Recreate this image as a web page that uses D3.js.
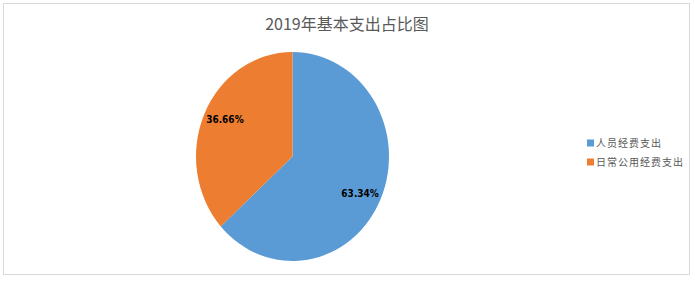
<html>
<head>
<meta charset="utf-8">
<style>
  body { margin: 0; background: #fff; }
  text { font-family: "Noto Sans CJK SC", "DejaVu Sans", sans-serif; }
</style>
</head>
<body>
<script src="https://cdn.jsdelivr.net/npm/d3@7/dist/d3.min.js"></script>
<script>
// chart data
var categories = ["人员经费支出", "日常公用经费支出"];
var shares = [63.34, 36.66];
var colors = ["#5B9BD5", "#ED7D31"];
var title = "2019年基本支出占比图";

var W = 695, H = 281;
var svg = d3.select("body").append("svg")
    .attr("width", W)
    .attr("height", H);

// outer frame
svg.append("rect")
    .attr("x", 3.5).attr("y", 3.5)
    .attr("width", 686).attr("height", 271)
    .attr("fill", "#fff")
    .attr("stroke", "#d9d9d9")
    .attr("stroke-width", 1);

svg.append("text")
    .attr("x", 347).attr("y", 30)
    .attr("text-anchor", "middle")
    .attr("fill", "#595959")
    .style("font-size", "16px")
    .text(title);

// the pie in the picture is slightly squeezed horizontally
var cx = 292.5, cy = 156.5, r = 104.5, sx = 96.5 / 104.5;
var data = categories.map(function(c, i) { return {name: c, value: shares[i], color: colors[i]}; });

var pie = d3.pie().sort(null).value(function(d) { return d.value; });
var arc = d3.arc().innerRadius(0).outerRadius(r);

var g = svg.append("g").attr("transform", "translate(" + cx + "," + cy + ")");
var arcs = pie(data);

g.append("g")
    .attr("transform", "scale(" + sx + ",1)")
  .selectAll("path")
  .data(arcs)
  .enter().append("path")
    .attr("d", arc)
    .attr("fill", function(d) { return d.data.color; });

// labels placed inside the slices
g.selectAll("text.lbl")
  .data(arcs)
  .enter().append("text")
    .attr("class", "lbl")
    .attr("transform", function(d) {
      var a = (d.startAngle + d.endAngle) / 2;
      return "translate(" + (Math.sin(a) * 74) + "," + (-Math.cos(a) * 90) + ")";
    })
    .attr("text-anchor", "middle")
    .attr("dy", "0.35em")
    .style("font-family", "'Liberation Sans Narrow', 'DejaVu Sans Condensed', sans-serif")
    .style("font-size", "10px")
    .style("font-weight", "bold")
    .attr("fill", "#000")
    .text(function(d) { return d.data.value.toFixed(2) + "%"; });

// legend
var legend = svg.append("g").attr("transform", "translate(587,143)");
var items = legend.selectAll("g")
  .data(data)
  .enter().append("g")
    .attr("transform", function(d, i) { return "translate(0," + (i * 19) + ")"; });
items.append("rect")
    .attr("x", 0).attr("y", -3.5)
    .attr("width", 7).attr("height", 7)
    .attr("fill", function(d) { return d.color; });
items.append("text")
    .attr("x", 9).attr("y", 0)
    .attr("dy", "0.35em")
    .attr("fill", "#595959")
    .style("font-size", "10px")
    .style("letter-spacing", "1px")
    .text(function(d) { return d.name; });
</script>
</body>
</html>
